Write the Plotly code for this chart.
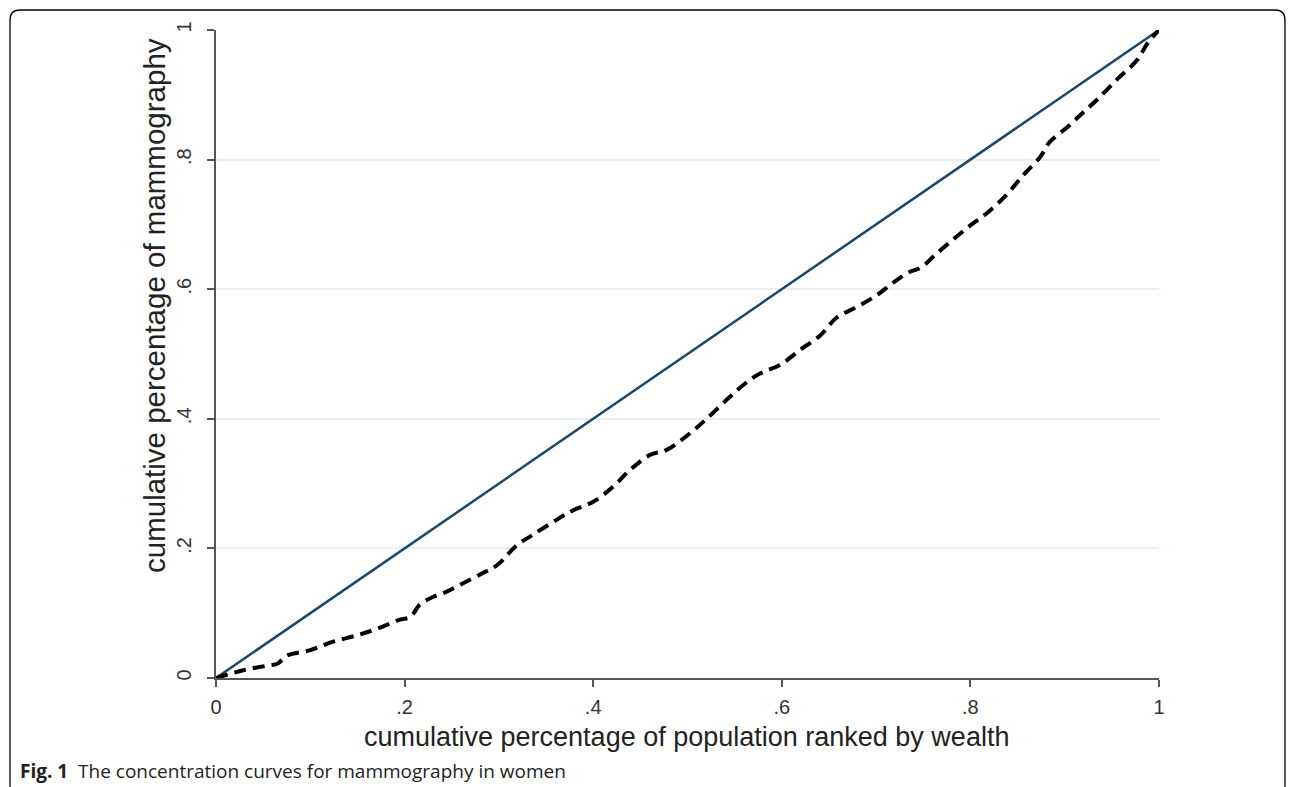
import plotly.graph_objects as go

# Line of equality
equality_x = [0, 1]
equality_y = [0, 1]

# Concentration curve for mammography
conc_x = [0, 0.029, 0.054, 0.065, 0.076, 0.100, 0.124, 0.150, 0.171, 0.195, 0.206,
          0.216, 0.230, 0.241, 0.259, 0.283, 0.298, 0.319, 0.336, 0.361, 0.379,
          0.400, 0.421, 0.439, 0.460, 0.478, 0.503, 0.521, 0.545, 0.566, 0.580,
          0.598, 0.619, 0.641, 0.658, 0.680, 0.701, 0.718, 0.736, 0.747, 0.765,
          0.796, 0.818, 0.838, 0.856, 0.874, 0.884, 0.902, 0.919, 0.934, 0.955,
          0.977, 0.988, 1.0]
conc_y = [0, 0.012, 0.019, 0.022, 0.035, 0.043, 0.056, 0.066, 0.076, 0.090, 0.094,
          0.113, 0.125, 0.131, 0.144, 0.162, 0.174, 0.205, 0.221, 0.244, 0.259,
          0.272, 0.295, 0.321, 0.344, 0.352, 0.378, 0.401, 0.434, 0.460, 0.472,
          0.483, 0.506, 0.529, 0.556, 0.573, 0.591, 0.610, 0.627, 0.633, 0.656,
          0.694, 0.718, 0.745, 0.776, 0.804, 0.827, 0.849, 0.872, 0.892, 0.923,
          0.954, 0.980, 1.0]

tick_vals = [0, 0.2, 0.4, 0.6, 0.8, 1]
tick_text = ["0", ".2", ".4", ".6", ".8", "1"]

x_title = "cumulative percentage of population ranked by wealth"
y_title = "cumulative percentage of mammography"
caption_bold = "Fig. 1"
caption_text = "The concentration curves for mammography in women"

W, H = 1293, 787
L, R, T, B = 216, 1159, 30, 678
pw, ph = R - L, B - T


def px(x):
    return (x - L) / pw


def py(y):
    return (B - y) / ph


fig = go.Figure()
fig.add_trace(go.Scatter(x=equality_x, y=equality_y, mode="lines",
                         line=dict(color="#1a476f", width=2.5), showlegend=False,
                         hoverinfo="skip"))
fig.add_trace(go.Scatter(x=conc_x, y=conc_y, mode="lines",
                         line=dict(color="black", width=4, dash="12px,7px"),
                         line_shape="spline", showlegend=False))

axis_font = dict(family="Liberation Sans, Arial", size=20, color="#333")
fig.update_xaxes(range=[0, 1], tickvals=tick_vals, ticktext=tick_text,
                 showgrid=False, zeroline=False, showline=True, linecolor="#555",
                 linewidth=1.5, ticks="outside", ticklen=7, tickcolor="#555",
                 tickwidth=1.5, tickfont=axis_font, ticklabelstandoff=3)
fig.update_yaxes(range=[0, 1], tickvals=tick_vals, ticktext=tick_text,
                 showgrid=True, gridcolor="#e8f0f2", gridwidth=2, zeroline=False,
                 showline=True, linecolor="#555", linewidth=1.5, ticks="outside",
                 ticklen=7, tickcolor="#555", tickwidth=1.5, tickangle=-90,
                 tickfont=axis_font, ticklabelstandoff=8)

r = 10
x0, x1, y0, y1 = 10, 1285, 10, 796
path = (f"M {px(x0)},{py(y0 + r)} Q {px(x0)},{py(y0)} {px(x0 + r)},{py(y0)} "
        f"L {px(x1 - r)},{py(y0)} Q {px(x1)},{py(y0)} {px(x1)},{py(y0 + r)} "
        f"L {px(x1)},{py(y1 - r)} Q {px(x1)},{py(y1)} {px(x1 - r)},{py(y1)} "
        f"L {px(x0 + r)},{py(y1)} Q {px(x0)},{py(y1)} {px(x0)},{py(y1 - r)} Z")
fig.add_shape(type="path", path=path, xref="paper", yref="paper",
              line=dict(color="black", width=1.3), layer="above")

fig.add_annotation(text=x_title, x=px(686), y=py(737), xref="paper", yref="paper",
                   showarrow=False, xanchor="center", yanchor="middle",
                   font=dict(family="Liberation Sans, Arial", size=27, color="#222"))
fig.add_annotation(text=y_title, x=px(154), y=py(306), xref="paper", yref="paper",
                   showarrow=False, xanchor="center", yanchor="middle", textangle=-90,
                   font=dict(family="Liberation Sans, Arial", size=29.5, color="#222"))
fig.add_annotation(text=f"<b>{caption_bold}</b>  {caption_text}", x=px(18), y=py(771),
                   xref="paper", yref="paper", showarrow=False, xanchor="left",
                   yanchor="middle",
                   font=dict(family="Open Sans", size=19, color="#222"))

fig.update_layout(width=W, height=H, margin=dict(l=L, r=W - R, t=T, b=H - B),
                  plot_bgcolor="white", paper_bgcolor="white")

fig.write_html("out.html")
